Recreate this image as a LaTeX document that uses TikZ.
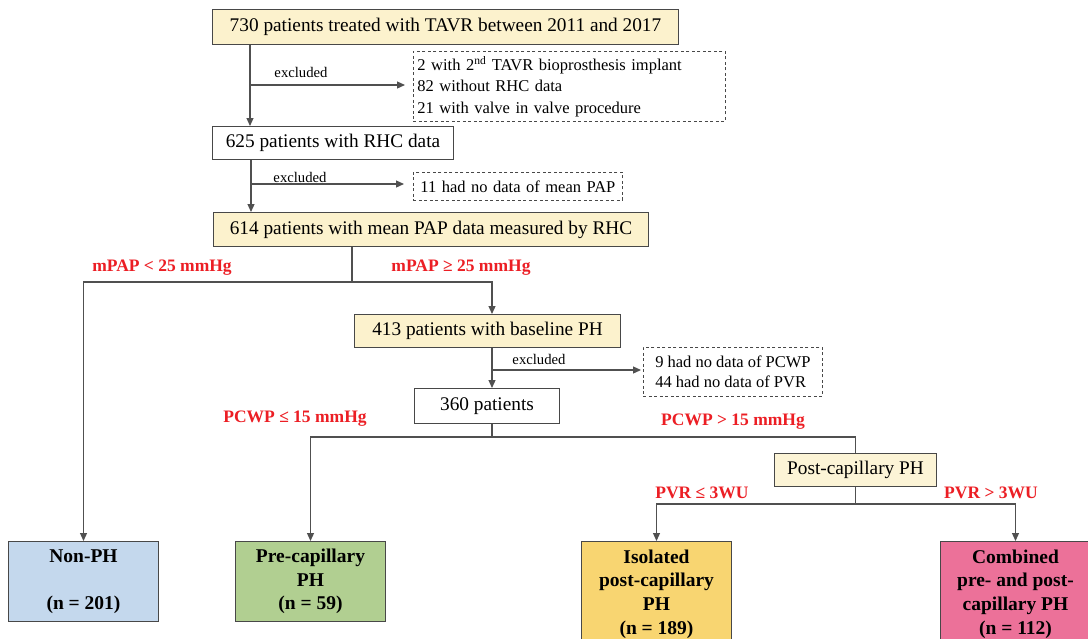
\documentclass[tikz,border=0pt]{standalone}
\usepackage{fontspec}
\setmainfont{Liberation Serif}
\usetikzlibrary{arrows.meta}

\definecolor{boxyellow}{RGB}{252,242,205}
\definecolor{postyellow}{RGB}{252,244,214}
\definecolor{nonblue}{RGB}{196,216,237}
\definecolor{pregreen}{RGB}{177,207,145}
\definecolor{isoyellow}{RGB}{248,213,113}
\definecolor{combpink}{RGB}{236,113,153}
\definecolor{condred}{RGB}{236,30,36}
\definecolor{boxline}{RGB}{72,72,72}
\definecolor{linkgray}{RGB}{80,80,80}

\begin{document}
\begin{tikzpicture}[x=1pt, y=-1pt,
    >={Triangle[length=8pt,width=7pt]},
    box/.style={draw=boxline, line width=1pt, inner sep=0pt, anchor=north west,
        font=\fontsize{19.3}{23}\selectfont},
    exclbox/.style={draw=boxline, dash pattern=on 3pt off 2.5pt, line width=0.9pt,
        inner ysep=0pt, anchor=north west, align=left, font=\fontsize{16.5}{21.5}\selectfont},
    exclabel/.style={font=\fontsize{14.7}{16}\selectfont},
    cond/.style={text=condred, font=\fontsize{17.5}{20}\selectfont\bfseries},
    group/.style={draw=boxline, line width=1pt, inner sep=0pt, anchor=north west,
        minimum width=150pt, align=center, font=\fontsize{19.5}{23.6}\selectfont\bfseries},
    link/.style={draw=linkgray, line width=1.2pt}]

    \path[use as bounding box, fill=white] (0,0) rectangle (1088,638);
    \clip (0,0) rectangle (1088,638);

    \node[box, fill=boxyellow, minimum width=466pt, minimum height=35pt] (start) at (212,9)
        {730 patients treated with TAVR between 2011 and 2017};
    \node[exclbox, inner xsep=4pt, text width=304pt, minimum height=70pt] (x1) at (413,51)
        {2 with 2\textsuperscript{nd} TAVR bioprosthesis implant\\82 without RHC data\\21 with valve in valve procedure};
    \node[box, fill=white, minimum width=241pt, minimum height=33pt] (rhc) at (212,126)
        {625 patients with RHC data};
    \node[exclbox, inner xsep=7pt, text width=195pt, minimum height=28pt] (x2) at (413,172)
        {11 had no data of mean PAP};
    \node[box, fill=boxyellow, minimum width=435pt, minimum height=34pt] (pap) at (213,212)
        {614 patients with mean PAP data measured by RHC};
    \node[box, fill=boxyellow, minimum width=266pt, minimum height=33pt] (ph) at (354,314)
        {413 patients with baseline PH};
    \node[exclbox, inner xsep=0pt, minimum width=179pt, minimum height=49pt,
        font=\fontsize{16.5}{19.5}\selectfont] (x3) at (643,347)
        {9 had no data of PCWP\\44 had no data of PVR};
    \node[box, fill=white, minimum width=145pt, minimum height=35pt] (cohort) at (414,388)
        {360 patients};
    \node[box, fill=postyellow, minimum width=162pt, minimum height=33pt] (post) at (774,453)
        {Post-capillary PH};

    \node[group, fill=nonblue, minimum height=80pt] (nonph) at (8,541)
        {Non-PH\\\mbox{}\\(n = 201)};
    \node[group, fill=pregreen, minimum height=80pt] (precap) at (235,541)
        {Pre-capillary\\PH\\(n = 59)};
    \node[group, fill=isoyellow, minimum height=105pt] (iso) at (581,541)
        {Isolated\\post-capillary\\PH\\(n = 189)};
    \node[group, fill=combpink, minimum height=105pt] (comb) at (940,541)
        {Combined\\pre- and post-\\capillary PH\\(n = 112)};

    \node[exclabel] (e1) at (301,72) {excluded};
    \node[exclabel] (e2) at (300,177) {excluded};
    \node[exclabel] (e3) at (539,359) {excluded};

    \node[cond] (c1) at (162,268) {mPAP < 25 mmHg};
    \node[cond] (c2) at (461,268) {mPAP ≥ 25 mmHg};
    \node[cond] (c3) at (295,419) {PCWP ≤ 15 mmHg};
    \node[cond] (c4) at (733,422) {PCWP > 15 mmHg};
    \node[cond] (c5) at (702,493) {PVR ≤ 3WU};
    \node[cond] (c6) at (991,493) {PVR > 3WU};

    \coordinate (j1) at (250,85);
    \coordinate (j2) at (251,184);
    \coordinate (s1) at (352,282);
    \coordinate (j3) at (492,370);
    \coordinate (s2) at (492,437);
    \coordinate (s3) at (post.south |- 0,504);

    \draw[link,->] (start.south -| j1) -- (rhc.north -| j1);
    \draw[link,->,shorten >=8pt] (j1) -- (x1.west |- j1);
    \draw[link,->] (rhc.south -| j2) -- (pap.north -| j2);
    \draw[link,->,shorten >=9pt] (j2) -- (x2.west |- j2);

    \draw[link] (pap.south -| s1) -- (s1);
    \draw[link,->] (s1) -| (nonph.north);
    \draw[link,->] (s1) -| (ph.north -| j3);

    \draw[link,->] (ph.south -| j3) -- (cohort.north -| j3);
    \draw[link,->,shorten >=2pt] (j3) -- (x3.west |- j3);

    \draw[link] (cohort.south -| s2) -- (s2);
    \draw[link,->] (s2) -| (precap.north);
    \draw[link] (s2) -| (post.north);

    \draw[link] (post.south) -- (s3);
    \draw[link,->] (s3) -| (iso.north);
    \draw[link,->] (s3) -| (comb.north);

\end{tikzpicture}
\end{document}
